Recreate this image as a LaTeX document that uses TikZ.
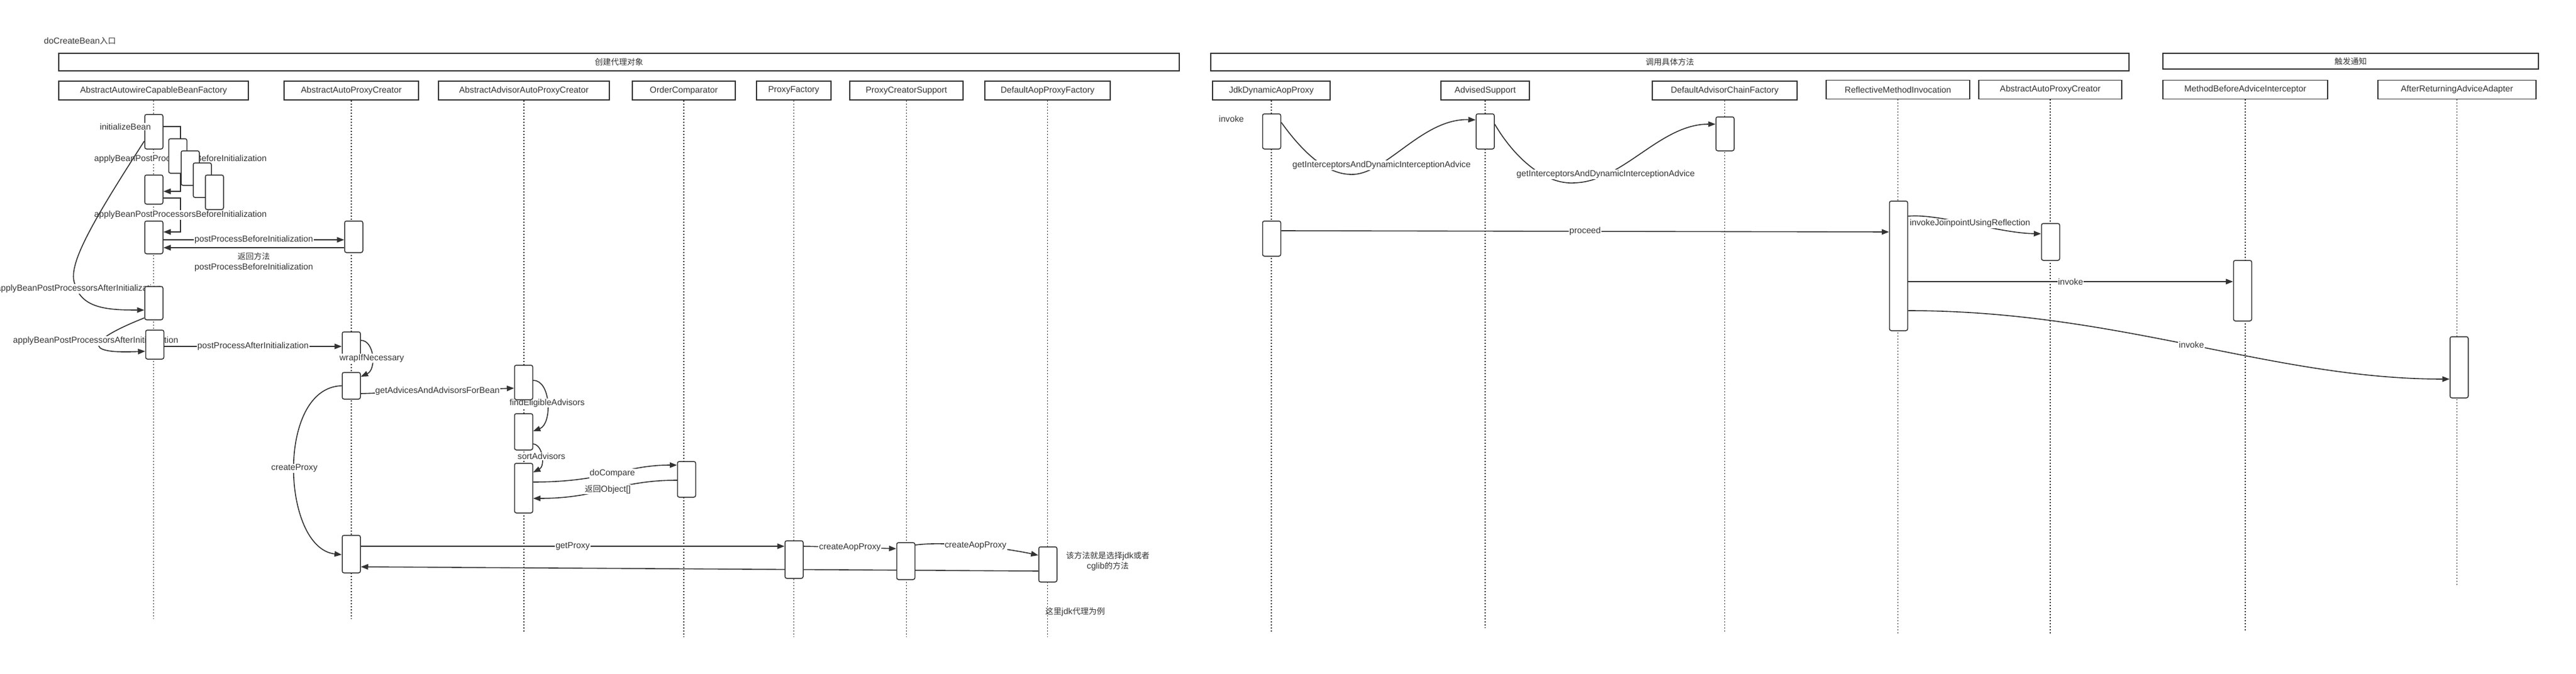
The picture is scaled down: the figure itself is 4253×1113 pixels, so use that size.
\documentclass[tikz,border=0pt]{standalone}
\usepackage{fontspec}
\setmainfont{Liberation Sans}
\newfontfamily\cjk[Scale=0.93]{Noto Sans CJK SC}
\usepackage{xcolor}
\usetikzlibrary{arrows.meta}
\definecolor{ink}{HTML}{333333}
\pgfdeclarelayer{bg}
\pgfsetlayers{bg,main}

\begin{document}
\begin{tikzpicture}[x=1pt,y=-1pt,
		font=\fontsize{14.3}{17}\selectfont,text=ink,
		frm/.style={draw=ink,line width=1.6pt,fill=white,minimum height=29pt,inner sep=0pt},
		cls/.style={draw=ink,line width=1.6pt,fill=white,minimum height=31pt,inner sep=0pt},
		act/.style={draw=ink,line width=1.5pt,fill=white,rounded corners=3pt,minimum width=30pt,inner sep=0pt},
		life/.style={ink,line width=1.2pt,dash pattern=on 2pt off 3pt},
		msg/.style={ink,line width=1.6pt,-{Triangle[length=12pt,width=9pt]}},
		lbl/.style={fill=white,inner sep=1pt,text=ink}]
		\useasboundingbox (0,0) rectangle (4253,1113);

		\node (lentry) at (132,68) {doCreateBean{\cjk 入口}};

		\node[frm,minimum width=1850pt] (fcreate) at (1022,102.5) {{\cjk 创建代理对象}};
		\node[frm,minimum width=1516pt] (finvoke) at (2757,102.5) {{\cjk 调用具体方法}};
		\node[frm,minimum width=620pt,minimum height=26pt] (fnotify) at (3881,101) {{\cjk 触发通知}};

		\node[cls,minimum width=313pt] (aacbf) at (253.5,149.5) {AbstractAutowireCapableBeanFactory};
		\node[cls,minimum width=222pt] (aapc) at (580,149.5) {AbstractAutoProxyCreator};
		\node[cls,minimum width=282pt] (aaapc) at (865,149.5) {AbstractAdvisorAutoProxyCreator};
		\node[cls,minimum width=170pt] (oc) at (1129,149.5) {OrderComparator};
		\node[cls,minimum width=123pt] (pf) at (1310.5,149.5) {ProxyFactory};
		\node[cls,minimum width=187pt] (pcs) at (1496.5,149.5) {ProxyCreatorSupport};
		\node[cls,minimum width=207pt] (dapf) at (1729.5,149.5) {DefaultAopProxyFactory};
		\node[cls,minimum width=194pt] (jdk) at (2099,149.5) {JdkDynamicAopProxy};
		\node[cls,minimum width=146pt] (advs) at (2452,149.5) {AdvisedSupport};
		\node[cls,minimum width=239pt] (dacf) at (2847.5,149.5) {DefaultAdvisorChainFactory};
		\node[cls,minimum width=237pt] (rmi) at (3133.5,148) {ReflectiveMethodInvocation};
		\node[cls,minimum width=236pt] (aapc2) at (3385,148) {AbstractAutoProxyCreator};
		\node[cls,minimum width=272pt] (mbai) at (3707,148) {MethodBeforeAdviceInterceptor};
		\node[cls,minimum width=261pt] (araa) at (4056.5,148) {AfterReturningAdviceAdapter};

		\node[act,minimum height=57pt] (ib) at (254,217.5) {};
		\node[act,minimum height=57pt] (n2) at (293.5,257.5) {};
		\node[act,minimum height=57pt] (n3) at (314,277.5) {};
		\node[act,minimum height=57pt] (n4) at (334,297.5) {};
		\node[act,minimum height=57pt] (n5) at (354,317.5) {};
		\node[act,minimum height=48pt] (a2) at (254,313) {};
		\node[act,minimum height=54pt] (a3) at (254,392) {};
		\node[act,minimum height=55pt] (a4) at (254,500.5) {};
		\node[act,minimum height=48pt] (a5) at (255.5,569) {};
		\node[act,minimum height=52pt] (b1) at (584,391) {};
		\node[act,minimum height=48pt] (b2) at (580,572) {};
		\node[act,minimum height=44pt] (b3) at (580,637) {};
		\node[act,minimum height=62pt] (b4) at (580,915) {};
		\node[act,minimum height=57pt] (d1) at (864.5,631.5) {};
		\node[act,minimum height=60pt] (d2) at (864.5,713) {};
		\node[act,minimum height=82pt] (d3) at (864.5,806) {};
		\node[act,minimum height=59pt] (e1) at (1133.5,791.5) {};
		\node[act,minimum height=62pt] (c1) at (1311,924) {};
		\node[act,minimum height=61pt] (c2) at (1495.5,926.5) {};
		\node[act,minimum height=58pt] (c3) at (1730,932) {};
		\node[act,minimum height=58pt] (f1) at (2099.5,217) {};
		\node[act,minimum height=58pt] (g1) at (2452,217) {};
		\node[act,minimum height=56pt] (h1) at (2848,221) {};
		\node[act,minimum height=58pt] (f2) at (2099.5,394) {};
		\node[act,minimum height=214pt] (i1) at (3134.5,439) {};
		\node[act,minimum height=61pt] (j1) at (3385.5,399.5) {};
		\node[act,minimum height=100pt] (k1) at (3702.5,480) {};
		\node[act,minimum height=101pt] (l1) at (4060,606.5) {};

		\node[lbl] (linit) at (207,209) {initializeBean};
		\draw[msg] (b2.east |- 0,562) .. controls (618,562) and (622,610) .. node[lbl,pos=.55] (lwrap) {wrapIfNecessary} (b3.east |- 0,622);

		\node (lnote) at (1829,927) [align=center] {{\cjk 该方法就是选择}jdk{\cjk 或者}\\cglib{\cjk 的方法}};
		\node (ljdk) at (1775,1010) {{\cjk 这里}jdk{\cjk 代理为例}};
		\node (linvoke) at (2033,196) {invoke};

		\begin{pgfonlayer}{bg}
		\draw[life] (aacbf.south) -- (aacbf.south |- 0,1022);
		\draw[life] (aapc.south) -- (aapc.south |- 0,1022);
		\draw[life] (aaapc.south) -- (aaapc.south |- 0,1045);
		\draw[life] (oc.south) -- (oc.south |- 0,1052);
		\draw[life] (pf.south) -- (pf.south |- 0,1052);
		\draw[life] (pcs.south) -- (pcs.south |- 0,1052);
		\draw[life] (dapf.south) -- (dapf.south |- 0,1052);
		\draw[life] (jdk.south) -- (jdk.south |- 0,1045);
		\draw[life] (advs.south) -- (advs.south |- 0,1037);
		\draw[life] (dacf.south) -- (dacf.south |- 0,1045);
		\draw[life] (rmi.south) -- (rmi.south |- 0,1048);
		\draw[life] (aapc2.south) -- (aapc2.south |- 0,1048);
		\draw[life] (mbai.south) -- (mbai.south |- 0,1041);
		\draw[life] (araa.south) -- (araa.south |- 0,966);

		\draw[msg] (ib.east |- 0,209) -- (298,209) -- node[lbl] (lbefore1) {applyBeanPostProcessorsBeforeInitialization} (298,316) -- (a2.east |- 0,316);
		\draw[msg] (a2.east |- 0,327) -- (298,327) -- node[lbl] (lbefore2) {applyBeanPostProcessorsBeforeInitialization} (298,383) -- (a3.east |- 0,383);
		\draw[msg] (ib.west |- 0,233) .. controls (150,370) and (110,440) .. (124,470) .. controls (135,510) and (180,512) .. (a4.west |- 0,512);
		\node[lbl] (lafter1) at (130,477) {applyBeanPostProcessorsAfterInitialization};
		\draw[msg] (a4.west |- 0,525) .. controls (150,560) and (130,585) .. (a5.west |- 0,580);
		\node[lbl] (lafter2) at (158,563) {applyBeanPostProcessorsAfterInitialization};
		\draw[msg] (a3.east |- 0,396) -- node[lbl] (lppb) {postProcessBeforeInitialization} (b1.west |- 0,396);
		\draw[msg] (b1.west |- 0,409) -- node[below=4pt,align=center] (lret) {{\cjk 返回方法}\\postProcessBeforeInitialization} (a3.east |- 0,409);
		\draw[msg] (a5.east |- 0,572) -- node[lbl] (lppa) {postProcessAfterInitialization} (b2.west |- 0,572);

		\draw[msg] (b3.west |- 0,637) .. controls (455,640) and (465,905) .. node[lbl] (lcreate) {createProxy} (b4.west |- 0,916);
		\draw[msg] (b3.east |- 0,650) -- node[lbl] (lget) {getAdvicesAndAdvisorsForBean} (d1.west |- 0,641);
		\draw[msg] (d1.east |- 0,628) .. controls (910,628) and (912,700) .. node[lbl] (lfind) {findEligibleAdvisors} (d2.east |- 0,712);
		\draw[msg] (d2.east |- 0,733) .. controls (897,735) and (900,770) .. node[lbl] (lsort) {sortAdvisors} (d3.east |- 0,780);
		\draw[msg] (d3.east |- 0,796) .. controls (1000,796) and (1030,768) .. node[lbl] (lcmp) {doCompare} (e1.west |- 0,768);
		\draw[msg] (e1.west |- 0,793) .. controls (1020,793) and (990,823) .. node[lbl] (lobj) {{\cjk 返回}Object[]} (d3.east |- 0,823);

		\draw[msg] (b4.east |- 0,902) -- node[lbl] (lproxy) {getProxy} (c1.west |- 0,902);
		\draw[msg] (c3.west |- 0,943) -- (b4.east |- 0,936);
		\draw[msg] (c1.east |- 0,902) -- node[lbl] (laop1) {createAopProxy} (c2.west |- 0,906);
		\draw[msg] (c2.east |- 0,900) .. controls (1560,893) and (1660,905) .. node[lbl] (laop2) {createAopProxy} (c3.west |- 0,917);

		\draw[msg] (f1.east |- 0,202) .. controls (2150,250) and (2190,290) .. (2235,288) .. controls (2290,285) and (2350,195) .. (g1.west |- 0,198);
		\node[lbl] (lgia1) at (2281,273) {getInterceptorsAndDynamicInterceptionAdvice};
		\draw[msg] (g1.east |- 0,205) .. controls (2500,260) and (2550,305) .. (2599,302) .. controls (2680,300) and (2740,205) .. (h1.west |- 0,205);
		\node[lbl] (lgia2) at (2651,288) {getInterceptorsAndDynamicInterceptionAdvice};
		\draw[msg] (f2.east |- 0,381) -- node[lbl] (lproceed) {proceed} (i1.west |- 0,383);
		\draw[msg] (i1.east |- 0,357) .. controls (3200,352) and (3300,385) .. node[lbl] (ljoin) {invokeJoinpointUsingReflection} (j1.west |- 0,386);
		\draw[msg] (i1.east |- 0,465) -- node[lbl] (linv1) {invoke} (k1.west |- 0,465);
		\draw[msg] (i1.east |- 0,513) .. controls (3500,513) and (3750,626) .. node[lbl] (linv2) {invoke} (l1.west |- 0,626);
		\end{pgfonlayer}
	\end{tikzpicture}
\end{document}
